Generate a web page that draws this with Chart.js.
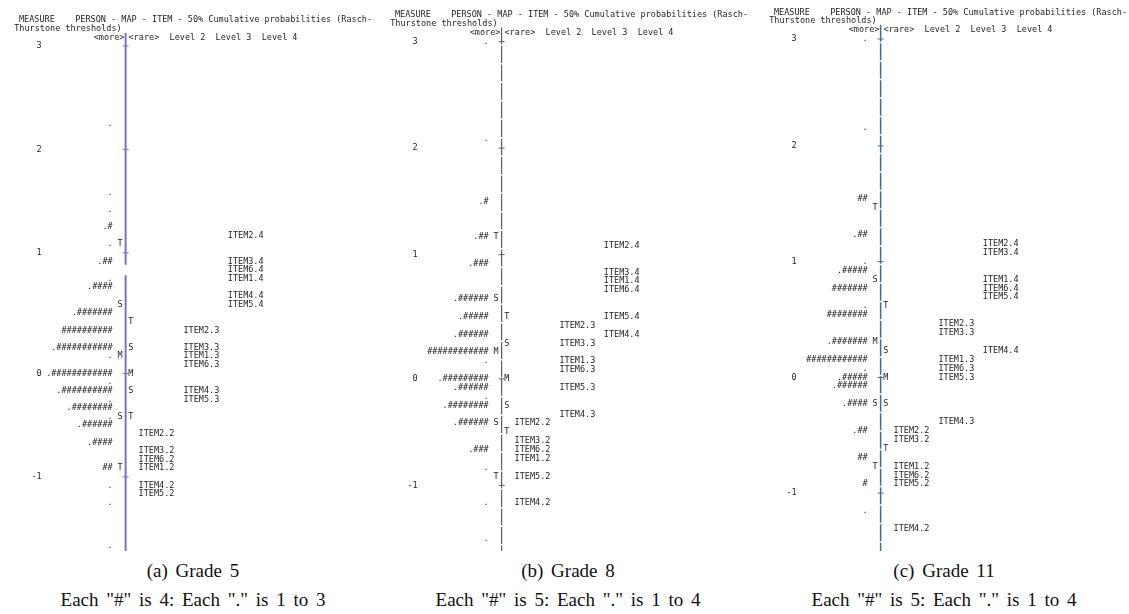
<!DOCTYPE html>
<html>
<head>
<meta charset="utf-8">
<script src="https://cdn.jsdelivr.net/npm/chart.js@4/dist/chart.umd.min.js"></script>
<style>
  html, body { margin: 0; padding: 0; background: #fff; }
  body { width: 1129px; height: 614px; position: relative; overflow: hidden; }
  canvas { position: absolute; top: 0; }
  .cap { position: absolute; top: 556px; width: 376px; text-align: center;
         font-family: "Liberation Serif", "Times New Roman", serif; font-size: 19px;
         line-height: 29px; word-spacing: 3px; color: #111; }
</style>
</head>
<body>
<canvas id="mapA" width="376" height="556" style="left:2px"></canvas>
<canvas id="mapB" width="376" height="556" style="left:378px"></canvas>
<canvas id="mapC" width="376" height="556" style="left:757px"></canvas>
<div class="cap" style="left:5px">(a) Grade 5<br>Each "#" is 4: Each "." is 1 to 3</div>
<div class="cap" style="left:380px">(b) Grade 8<br>Each "#" is 5: Each "." is 1 to 4</div>
<div class="cap" style="left:756px">(c) Grade 11<br>Each "#" is 5: Each "." is 1 to 4</div>
<script>
// every entry is [row, text]; row 0 is the printed line of measure 3,
// one row per line of the Winsteps map
const titleLine1 = 'MEASURE    PERSON - MAP - ITEM - 50% Cumulative probabilities (Rasch-'
const titleLine2 = 'Thurstone thresholds)'
const headLeft = '<more>'
const headRight = '<rare>  Level 2  Level 3  Level 4'

// Grade 5
const ticksA = [[0, '3'], [12, '2'], [24, '1'], [38, '0'], [50, '-1']]
const personsA = [[9, '.'], [17, '.'], [19, '.'], [21, '.#'], [23, '.'], [25, '.##'], [27, '.'],
    [28, '.####'], [31, '.#######'], [33, '##########'], [35, '.###########'], [36, '.'],
    [38, '.############'], [39, '.'], [40, '.##########'], [41, '.'], [42, '.########'], [43, '.'],
    [44, '.######'], [46, '.####'], [49, '##'], [51, '.'], [53, '.'], [58, '.']]
const personMarksA = [[23, 'T'], [30, 'S'], [36, 'M'], [43, 'S'], [49, 'T']]
const itemMarksA = [[32, 'T'], [35, 'S'], [38, 'M'], [40, 'S'], [43, 'T']]
const level2A = [[45, 'ITEM2.2'], [47, 'ITEM3.2'], [48, 'ITEM6.2'], [49, 'ITEM1.2'], [51, 'ITEM4.2'], [52, 'ITEM5.2']]
const level3A = [[33, 'ITEM2.3'], [35, 'ITEM3.3'], [36, 'ITEM1.3'], [37, 'ITEM6.3'], [40, 'ITEM4.3'], [41, 'ITEM5.3']]
const level4A = [[22, 'ITEM2.4'], [25, 'ITEM3.4'], [26, 'ITEM6.4'], [27, 'ITEM1.4'], [29, 'ITEM4.4'], [30, 'ITEM5.4']]

// Grade 8
const ticksB = [[0, '3'], [12, '2'], [24, '1'], [38, '0'], [50, '-1']]
const personsB = [[0, '.'], [11, '.'], [18, '.#'], [22, '.##'], [25, '.###'], [29, '.######'],
    [31, '.#####'], [33, '.######'], [35, '############'], [36, '.'], [38, '.#########'],
    [39, '.######'], [40, '.'], [41, '.########'], [43, '.######'], [46, '.###'], [48, '.'],
    [52, '.'], [56, '.']]
const personMarksB = [[22, 'T'], [29, 'S'], [35, 'M'], [43, 'S'], [49, 'T']]
const itemMarksB = [[31, 'T'], [34, 'S'], [38, 'M'], [41, 'S'], [44, 'T']]
const level2B = [[43, 'ITEM2.2'], [45, 'ITEM3.2'], [46, 'ITEM6.2'], [47, 'ITEM1.2'], [49, 'ITEM5.2'], [52, 'ITEM4.2']]
const level3B = [[32, 'ITEM2.3'], [34, 'ITEM3.3'], [36, 'ITEM1.3'], [37, 'ITEM6.3'], [39, 'ITEM5.3'], [42, 'ITEM4.3']]
const level4B = [[23, 'ITEM2.4'], [26, 'ITEM3.4'], [27, 'ITEM1.4'], [28, 'ITEM6.4'], [31, 'ITEM5.4'], [33, 'ITEM4.4']]

// Grade 11
const ticksC = [[0, '3'], [12, '2'], [25, '1'], [38, '0'], [51, '-1']]
const personsC = [[0, '.'], [10, '.'], [18, '##'], [22, '.##'], [25, '.'], [26, '.#####'],
    [28, '#######'], [30, '.'], [31, '########'], [34, '.#######'], [36, '############'],
    [37, '.'], [38, '.#####'], [39, '.######'], [41, '.####'], [44, '.##'], [47, '##'],
    [50, '#'], [53, '.']]
const personMarksC = [[19, 'T'], [27, 'S'], [34, 'M'], [41, 'S'], [48, 'T']]
const itemMarksC = [[30, 'T'], [35, 'S'], [38, 'M'], [41, 'S'], [46, 'T']]
const level2C = [[44, 'ITEM2.2'], [45, 'ITEM3.2'], [48, 'ITEM1.2'], [49, 'ITEM6.2'], [50, 'ITEM5.2'], [55, 'ITEM4.2']]
const level3C = [[32, 'ITEM2.3'], [33, 'ITEM3.3'], [36, 'ITEM1.3'], [37, 'ITEM6.3'], [38, 'ITEM5.3'], [43, 'ITEM4.3']]
const level4C = [[23, 'ITEM2.4'], [24, 'ITEM3.4'], [27, 'ITEM1.4'], [28, 'ITEM6.4'], [29, 'ITEM5.4'], [35, 'ITEM4.4']]

// layout, in character columns of the mono font
const CW = 5.12
const W = 376, H = 556
const COL = { title1: 2.4, title2: 1.45, measure: 6.95, person: 21.2, pMark: 22.7, axis: 23.8,
    iMark: 24.85, level2: 26.4, level3: 35.4, level4: 44.3, headLeft: 23.55, headRight: 24.4 }
const FONT = '8.5px "DejaVu Sans Mono", monospace'
const TEXT_COLOR = '#262626'

const textPlugin = {
    id: 'mapText',
    afterDatasetsDraw(chart) {
        const ctx = chart.ctx
        ctx.save()
        ctx.font = FONT
        ctx.fillStyle = TEXT_COLOR
        ctx.textBaseline = 'middle'
        chart.data.datasets.forEach((ds, i) => {
            if (!ds.texts) return
            ctx.textAlign = ds.align
            chart.getDatasetMeta(i).data.forEach((pt, j) => {
                ctx.fillText(ds.texts[j], pt.x, pt.y)
            })
        })
        ctx.restore()
    }
}

function textSet(rows, col, align){
    return {
        data: rows.map(r => ({x: col, y: r[0]})),
        texts: rows.map(r => r[1]),
        align: align,
        pointRadius: 0,
        showLine: false
    }
}

function makeMap(id, m, look){
    const end = look.end
    const heads = [[-3, titleLine1], [-2, titleLine2]]
    const axisData = []
    look.segments.forEach((s, k) => {
        if (k > 0) axisData.push({x: COL.axis, y: null})
        axisData.push({x: COL.axis, y: s[0]}, {x: COL.axis, y: s[1]})
    })
    const datasets = [
        {   // the vertical measure line
            data: axisData,
            showLine: true,
            spanGaps: false,
            borderColor: look.color,
            borderWidth: look.width,
            borderDash: look.dash,
            pointRadius: 0,
            clip: false
        },
        {   // '+' ticks on the measure line
            data: m.ticks.map(t => ({x: COL.axis, y: t[0]})),
            pointStyle: 'line',
            pointRadius: 3,
            pointBorderColor: look.color,
            pointBorderWidth: 1,
            showLine: false
        },
        textSet([heads[0]], COL.title1, 'left'),
        textSet([heads[1]], COL.title2, 'left'),
        textSet([[-1, headLeft]], COL.headLeft, 'right'),
        textSet([[-1, headRight]], COL.headRight, 'left'),
        textSet(m.ticks, COL.measure, 'right'),
        textSet(m.persons, COL.person, 'right'),
        textSet(m.personMarks, COL.pMark, 'center'),
        textSet(m.itemMarks, COL.iMark, 'center'),
        textSet(m.level2, COL.level2, 'left'),
        textSet(m.level3, COL.level3, 'left'),
        textSet(m.level4, COL.level4, 'left')
    ]
    const bottom = H - look.top - (end + 3) * look.rowH

    new Chart(id, {
        type: 'scatter',
        data: { datasets: datasets },
        options: {
            responsive: false,
            animation: false,
            events: [],
            layout: { padding: { top: look.top, bottom: bottom, left: 0, right: 0 } },
            scales: {
                x: { type: 'linear', min: 0, max: W / CW, display: false },
                y: { type: 'linear', reverse: true, min: -3, max: end, display: false }
            },
            plugins: { legend: { display: false }, tooltip: { enabled: false } }
        },
        plugins: [textPlugin]
    })
}

makeMap('mapA',
    { ticks: ticksA, persons: personsA, personMarks: personMarksA, itemMarks: itemMarksA,
      level2: level2A, level3: level3A, level4: level4A },
    { top: 20.1, rowH: 8.62, end: 58.6, segments: [[-1.5, 25.4], [26.6, 58.6]],
      color: '#7477c2', width: 2, dash: [] })

makeMap('mapB',
    { ticks: ticksB, persons: personsB, personMarks: personMarksB, itemMarks: itemMarksB,
      level2: level2B, level3: level3B, level4: level4B },
    { top: 15.0, rowH: 8.886, end: 57.4, segments: [[-1.6, 57.4]],
      color: '#56606e', width: 1.2, dash: [17, 1.5] })

makeMap('mapC',
    { ticks: ticksC, persons: personsC, personMarks: personMarksC, itemMarks: itemMarksC,
      level2: level2C, level3: level3C, level4: level4C },
    { top: 12.3, rowH: 8.91, end: 57.5, segments: [[-1.6, 57.5]],
      color: '#3b6e9c', width: 1.5, dash: [17, 1.5] })
</script>
</body>
</html>
